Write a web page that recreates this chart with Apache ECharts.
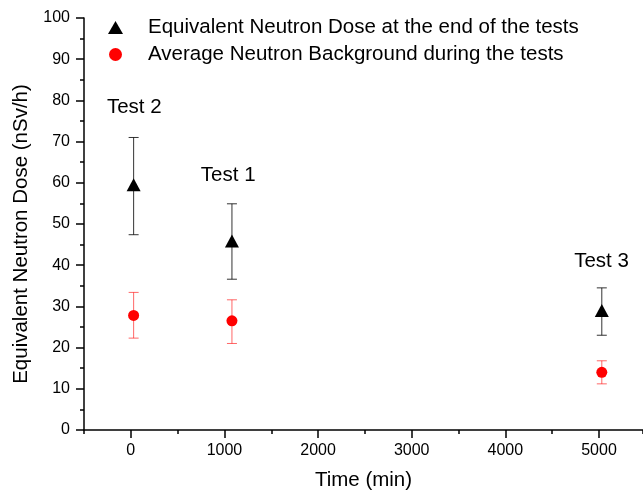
<!DOCTYPE html>
<html><head><meta charset="utf-8">
<script src="https://cdn.jsdelivr.net/npm/echarts@6/dist/echarts.min.js"></script>
<style>html,body{margin:0;padding:0;background:#fff}#c{width:643px;height:490px}</style>
</head><body><div id="c"></div>
<script>
const tests = ['Test 2', 'Test 1', 'Test 3'];
const timeMin = [30, 1080, 5030];
const doseVal = [59.5, 45.9, 29.0];
const doseLo = [47.4, 36.6, 23.0];
const doseHi = [71.0, 54.9, 34.5];
const bgVal = [27.8, 26.5, 14.0];
const bgLo = [22.3, 21.0, 11.2];
const bgHi = [33.4, 31.6, 16.8];
const xTicks = [0, 1000, 2000, 3000, 4000, 5000];
const annotX = [37, 1040, 5027];
const annotY = [78.2, 61.9, 41.0];
const seriesNames = ['Equivalent Neutron Dose at the end of the tests', 'Average Neutron Background during the tests'];

const FONT = '"Liberation Sans", Arial, Helvetica, sans-serif';
const chart = echarts.init(document.getElementById('c'), null, {renderer: 'canvas'});

function errBar(color, opacity) {
  return function (params, api) {
    const x = api.value(0);
    const lo = api.coord([x, api.value(1)]);
    const hi = api.coord([x, api.value(2)]);
    const hw = 5;
    const st = {stroke: color, lineWidth: 1, opacity: opacity};
    return {type: 'group', children: [
      {type: 'line', shape: {x1: lo[0], y1: lo[1], x2: hi[0], y2: hi[1]}, style: st},
      {type: 'line', shape: {x1: lo[0] - hw, y1: lo[1], x2: lo[0] + hw, y2: lo[1]}, style: st},
      {type: 'line', shape: {x1: hi[0] - hw, y1: hi[1], x2: hi[0] + hw, y2: hi[1]}, style: st}
    ]};
  };
}

const axisLineStyle = {color: '#000', width: 1.5};

chart.setOption({
  animation: false,
  textStyle: {fontFamily: FONT},
  grid: {left: 84, right: 0, top: 18, bottom: 60, containLabel: false, outerBoundsMode: 'none'},
  legend: {
    orient: 'vertical', left: 103, top: 12, itemWidth: 15, itemHeight: 13, itemGap: 6,
    selectedMode: false, symbolKeepAspect: true,
    textStyle: {fontFamily: FONT, fontSize: 20.5, color: '#000', lineHeight: 20, padding: [0, 0, 0, 20]},
    data: [{name: seriesNames[0], icon: 'triangle'}, {name: seriesNames[1], icon: 'circle'}]
  },
  xAxis: [{
    type: 'value', min: -500, max: 5470,
    name: 'Time (min)', nameLocation: 'middle', nameGap: 40,
    nameTextStyle: {fontFamily: FONT, fontSize: 20.5, color: '#000'},
    axisLine: {show: true, onZero: false, lineStyle: axisLineStyle},
    axisTick: {show: true, length: 8, lineStyle: {color: '#000', width: 1.5}, customValues: xTicks},
    axisLabel: {fontFamily: FONT, fontSize: 16, color: '#000', margin: 13, customValues: xTicks,
                formatter: v => String(v)},
    splitLine: {show: false}
  }, {
    type: 'value', min: -500, max: 5470, interval: 500, position: 'bottom',
    axisLine: {show: false, onZero: false},
    axisTick: {show: true, length: 4, lineStyle: {color: '#000', width: 1.5}},
    axisLabel: {show: false}, splitLine: {show: false}
  }],
  yAxis: {
    type: 'value', min: 0, max: 100, interval: 10,
    name: 'Equivalent Neutron Dose (nSv/h)', nameLocation: 'middle', nameGap: 52,
    nameTextStyle: {fontFamily: FONT, fontSize: 20.5, color: '#000', padding: [0, 20, 0, 0]},
    axisLine: {show: true, onZero: false, lineStyle: axisLineStyle},
    axisTick: {show: true, length: 8, lineStyle: {color: '#000', width: 1.5}},
    minorTick: {show: true, splitNumber: 2, length: 4, lineStyle: {color: '#000', width: 1.5}},
    axisLabel: {fontFamily: FONT, fontSize: 16, color: '#000', margin: 14},
    splitLine: {show: false}
  },
  series: [
    {type: 'custom', xAxisIndex: 0, renderItem: errBar('#000', 0.8), z: 1,
     data: timeMin.map((t, i) => [t, doseLo[i], doseHi[i]]), silent: true},
    {type: 'custom', xAxisIndex: 0, renderItem: errBar('#ff0000', 0.6), z: 1,
     data: timeMin.map((t, i) => [t, bgLo[i], bgHi[i]]), silent: true},
    {name: seriesNames[0], type: 'scatter', xAxisIndex: 0, symbol: 'triangle', symbolSize: [14, 13],
     itemStyle: {color: '#000', opacity: 1}, z: 3,
     data: timeMin.map((t, i) => [t, doseVal[i]])},
    {name: seriesNames[1], type: 'scatter', xAxisIndex: 0, symbol: 'circle', symbolSize: 11,
     itemStyle: {color: '#ff0000', opacity: 1}, z: 3,
     data: timeMin.map((t, i) => [t, bgVal[i]])},
    {type: 'scatter', xAxisIndex: 0, symbolSize: 1, silent: true,
     itemStyle: {color: 'rgba(0,0,0,0)', opacity: 1},
     label: {show: true, position: 'inside', formatter: p => p.name, fontFamily: FONT, fontSize: 20.5,
             color: '#000', opacity: 1, textBorderWidth: 0},
     data: tests.map((n, i) => ({name: n, value: [annotX[i], annotY[i]]}))}
  ]
});
</script></body></html>
